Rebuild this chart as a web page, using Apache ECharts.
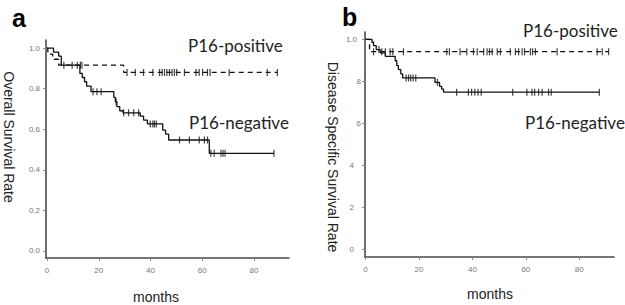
<!DOCTYPE html>
<html><head><meta charset="utf-8">
<script src="https://cdn.jsdelivr.net/npm/echarts@6/dist/echarts.min.js"></script>
<style>html,body{margin:0;padding:0;background:#fff}#c{width:625px;height:305px}</style>
</head><body><div id="c"></div>
<script>
// ---- Panel a: Overall survival ----
const aNegTimes = [0, 2.5, 4.5, 5.5, 12.7, 13.6, 14.5, 15.3, 17, 25.8, 26.4, 27, 28.1, 29.4, 36, 37.3, 38.8, 44.7, 45.8, 47, 62.7, 87.7];
const aNegSurv  = [1.0, 0.98, 0.96, 0.916, 0.875, 0.855, 0.834, 0.813, 0.785, 0.757, 0.736, 0.711, 0.691, 0.681, 0.665, 0.645, 0.626, 0.596, 0.576, 0.547, 0.481, 0.481];
const aNegCensor = [6.5, 9.7, 17.8, 19.3, 20.9, 26.7, 29.6, 31.5, 33.5, 35.4, 39.9, 40.9, 41.5, 42.2, 51.2, 55, 58.8, 60.8, 62, 63.3, 64.6, 67.2, 68, 68.8, 87.7];
const aPosTimes = [0, 0.3, 2.2, 4.5, 29.6, 89];
const aPosSurv  = [1.0, 0.97, 0.945, 0.916, 0.88, 0.88];
const aPosCensor = [11.7, 12.9, 13.5, 30.9, 34.1, 37.3, 40.9, 43.5, 44.5, 45.4, 46.3, 47.3, 48.3, 49.2, 50.1, 53.1, 57.6, 58.8, 60.1, 62, 63, 70.4, 85.1, 89];
// ---- Panel b: Disease specific survival ----
const bNegTimes = [0, 2.4, 3.0, 4.0, 5.5, 7.4, 11.1, 11.7, 12.3, 13.2, 13.9, 26, 27.7, 28.5, 29.2, 87.5];
const bNegSurv  = [1.0, 0.986, 0.97, 0.951, 0.935, 0.919, 0.898, 0.875, 0.856, 0.835, 0.816, 0.795, 0.776, 0.763, 0.748, 0.748];
const bNegCensor = [5.0, 15.2, 16.1, 16.9, 17.8, 18.8, 26.9, 34.1, 38.5, 39.7, 40.9, 42.1, 43.3, 55.1, 60.4, 62.3, 63.3, 64.8, 66.1, 68.5, 69.5, 87.5];
const bPosTimes = [0, 1.5, 91];
const bPosSurv  = [1.0, 0.941, 0.941];
const bPosCensor = [3, 6.1, 7.4, 9.2, 10.2, 14.2, 30.4, 31.4, 35.4, 37.9, 40.4, 41.8, 44.2, 45.5, 46.4, 47.4, 49.3, 50.5, 54.2, 56.1, 57.3, 58.6, 59.5, 61.7, 62.5, 63.6, 71.7, 86.7, 88.6, 91];
// ---- ticks ----
const xTicks = [0, 20, 40, 60, 80];
const yTicks = [0, 0.2, 0.4, 0.6, 0.8, 1.0];
const yTickLabelsA = ['0.0', '0.2', '0.4', '0.6', '0.8', '1.0'];
const yTickLabelsB = ['0', '2', '4', '6', '8', '1.0'];
const groupLabels = ['P16-positive', 'P16-negative'];

function pairs(t, s) { return t.map((v, i) => [v, s[i]]); }
function survAt(t, s, x) { let v = s[0]; for (let i = 0; i < t.length; i++) { if (t[i] <= x) v = s[i]; } return v; }
function censorPts(c, t, s) { return c.map(x => [x, survAt(t, s, x)]); }

const ink = '#111';
const axisCol = '#4a4a4a';
const lblCol = '#777';

function xAx(grid, min, max) {
  return {
    type: 'value', gridIndex: grid, min: min, max: max,
    axisLine: { show: true, onZero: false, lineStyle: { color: axisCol, width: 1.6 } },
    axisTick: { show: true, customValues: xTicks, length: 3, lineStyle: { color: '#888' } },
    axisLabel: { customValues: xTicks, color: lblCol, fontSize: 8, margin: 8, fontFamily: 'Liberation Sans' },
    splitLine: { show: false }
  };
}
function yAx(grid, min, max, labels, rich, fmtKey) {
  return {
    type: 'value', gridIndex: grid, min: min, max: max,
    axisLine: { show: true, onZero: false, lineStyle: { color: axisCol, width: 1.6 } },
    axisTick: { show: true, customValues: yTicks, length: 3, lineStyle: { color: '#888' } },
    axisLabel: {
      customValues: yTicks, color: lblCol, fontSize: 8, margin: fmtKey ? 4 : 6, fontFamily: 'Liberation Sans',
      formatter: function (v) {
        const i = yTicks.findIndex(t => Math.abs(t - v) < 1e-6);
        const s = i >= 0 ? labels[i] : '';
        return fmtKey ? '{' + fmtKey(s) + '|' + s + '}' : s;
      },
      rich: rich
    },
    splitLine: { show: false }
  };
}

const richB = {
  p0: { color: lblCol, fontSize: 8, fontFamily: 'Liberation Sans', padding: [0, 0, 0, 0] },
  p4: { color: lblCol, fontSize: 8, fontFamily: 'Liberation Sans', padding: [0, 4, 0, 0] },
  p7: { color: lblCol, fontSize: 8, fontFamily: 'Liberation Sans', padding: [0, 7, 0, 0] }
};
function keyB(s) { if (s === '1.0') return 'p4'; if (s === '8' || s === '6') return 'p0'; return 'p7'; }

function stepSeries(xi, t, s, dashed) {
  return {
    type: 'line', xAxisIndex: xi, yAxisIndex: xi, step: 'end', data: pairs(t, s),
    symbol: 'none', silent: true, animation: false,
    lineStyle: { color: ink, width: 1.3, type: dashed ? [5, 4] : 'solid' }
  };
}
function censorSeries(xi, c, t, s) {
  return {
    type: 'scatter', xAxisIndex: xi, yAxisIndex: xi, data: censorPts(c, t, s),
    symbol: 'rect', symbolSize: [1.2, 7], itemStyle: { color: ink }, silent: true, animation: false
  };
}

const titleFont = '14px "Liberation Sans", Arial, sans-serif';
const grpFont = '17px Lato, "Open Sans", sans-serif';
function txt(text, x, y, font, opts) {
  return Object.assign({
    type: 'text', x: x, y: y, silent: true,
    style: Object.assign({ text: text, font: font, fill: '#222', textAlign: 'left', textVerticalAlign: 'middle' }, opts || {})
  }, {});
}
function rtxt(text, x, y) {
  return { type: 'text', x: x, y: y, rotation: -Math.PI / 2, silent: true,
    style: { text: text, font: titleFont, fill: '#222', textAlign: 'center', textVerticalAlign: 'middle' } };
}

const chart = echarts.init(document.getElementById('c'), null, { renderer: 'svg' });
chart.setOption({
  animation: false,
  grid: [
    { left: 46, top: 40, width: 243, height: 218 },
    { left: 365, top: 32, width: 249, height: 225 }
  ],
  xAxis: [xAx(0, -0.4, 93.5), xAx(1, -0.2, 93)],
  yAxis: [yAx(0, -0.035, 1.04, yTickLabelsA, null, null), yAx(1, -0.038, 1.035, yTickLabelsB, richB, keyB)],
  series: [
    stepSeries(0, aNegTimes, aNegSurv, false),
    stepSeries(0, aPosTimes, aPosSurv, true),
    censorSeries(0, aNegCensor, aNegTimes, aNegSurv),
    censorSeries(0, aPosCensor, aPosTimes, aPosSurv),
    stepSeries(1, bNegTimes, bNegSurv, false),
    stepSeries(1, bPosTimes, bPosSurv, true),
    censorSeries(1, bNegCensor, bNegTimes, bNegSurv),
    censorSeries(1, bPosCensor, bPosTimes, bPosSurv)
  ],
  graphic: [
    txt('a', 12, 18, 'bold 25px "Liberation Sans", Arial, sans-serif', { fill: '#000' }),
    txt('b', 342, 17, 'bold 25px "Liberation Sans", Arial, sans-serif', { fill: '#000' }),
    rtxt('Overall Survival Rate', 9, 137),
    rtxt('Disease Specific Survival Rate', 333, 157),
    txt('months', 156, 297, titleFont, { textAlign: 'center' }),
    txt('months', 490, 294, titleFont, { textAlign: 'center' }),
    txt(groupLabels[0], 188, 45, grpFont),
    txt(groupLabels[1], 189, 122, grpFont),
    txt(groupLabels[0], 523, 30, grpFont),
    txt(groupLabels[1], 525, 122, grpFont)
  ]
});
</script></body></html>
